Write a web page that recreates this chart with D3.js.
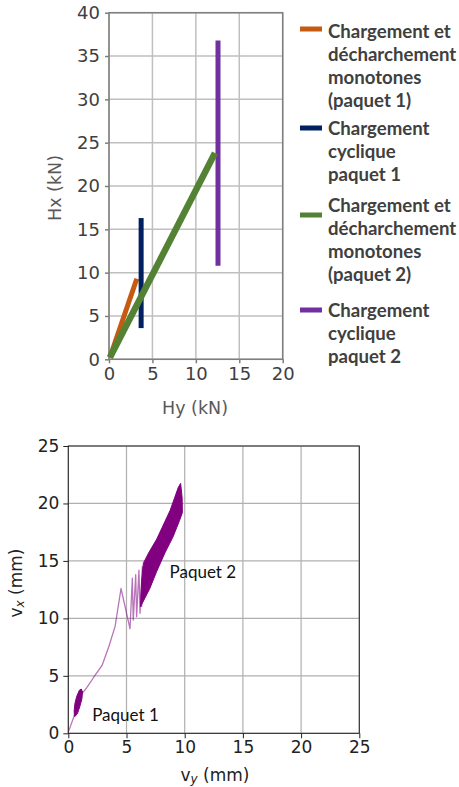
<!DOCTYPE html>
<html><head><meta charset="utf-8">
<script src="https://cdn.jsdelivr.net/npm/d3@7"></script>
<style>body{margin:0;background:#fff}svg{display:block}</style>
</head><body>
<svg id="c" width="459" height="787"></svg>
<script>
// ---------- Top chart data (kN) ----------
const topXTicks = [0, 5, 10, 15, 20];
const topYTicks = [0, 5, 10, 15, 20, 25, 30, 35, 40];
const seriesNames = [
  ["Chargement et", "décharchement", "monotones", "(paquet 1)"],
  ["Chargement", "cyclique", "paquet 1"],
  ["Chargement et", "décharchement", "monotones", "(paquet 2)"],
  ["Chargement", "cyclique", "paquet 2"]
];
const seriesColors = ["#C55A11", "#002060", "#548235", "#7030A0"];
const mono1Hy = [0.1, 3.2];
const mono1Hx = [0.2, 9.3];
const cyc1Hy = [3.7, 3.7];
const cyc1Hx = [3.6, 16.3];
const mono2Hy = [0.1, 12.2];
const mono2Hx = [0.2, 23.8];
const cyc2Hy = [12.55, 12.55];
const cyc2Hx = [10.8, 36.8];

// ---------- Bottom chart data (mm) ----------
const botTicks = [0, 5, 10, 15, 20, 25];
const trajVy = [0, 0.25, 0.5, 0.6, 0.75, 0.9, 1.15, 1.6, 2.2, 2.9, 3.5, 4.02, 4.53, 5.3, 5.5, 5.58, 5.79, 5.87, 6.07, 6.16, 6.36, 6.3];
const trajVx = [0.1, 0.8, 1.5, 2.0, 2.6, 3.0, 3.4, 4.0, 4.9, 5.9, 7.6, 9.3, 12.6, 9.1, 13.5, 9.86, 13.8, 10.15, 14.2, 10.44, 14.5, 11.0];
const clus1Vy = [0.55, 0.78, 0.98, 1.17, 1.22, 1.12, 0.95, 0.72, 0.57, 0.5];
const clus1Vx = [1.45, 1.7, 2.3, 3.0, 3.6, 3.85, 3.75, 3.2, 2.6, 1.9];
const clus2Vy = [6.2, 7.0, 7.6, 8.3, 9.0, 9.55, 9.8, 9.78, 9.65, 9.45, 8.75, 7.6, 6.9, 6.45, 6.3];
const clus2Vx = [11.0, 12.6, 14.1, 15.7, 17.1, 18.5, 19.2, 20.5, 21.75, 21.4, 19.4, 16.9, 15.7, 14.8, 13.2];
const annotations = [{t: "Paquet 2", vy: 8.7, vx: 14.1}, {t: "Paquet 1", vy: 2.05, vx: 1.6}];

const svg = d3.select("#c");

// ================= TOP CHART =================
const tx = d3.scaleLinear().domain([0, 20]).range([109, 282.7]);
const ty = d3.scaleLinear().domain([0, 40]).range([359.3, 12.7]);
const gTop = svg.append("g");
const gridCol = "#bfbfbf";
gTop.selectAll(".gx").data(topXTicks).join("line")
  .attr("x1", d => tx(d)).attr("x2", d => tx(d)).attr("y1", ty(0)).attr("y2", ty(40))
  .attr("stroke", gridCol).attr("stroke-width", 1.5);
gTop.selectAll(".gy").data(topYTicks).join("line")
  .attr("x1", tx(0)).attr("x2", tx(20)).attr("y1", d => ty(d)).attr("y2", d => ty(d))
  .attr("stroke", gridCol).attr("stroke-width", 1.5);
const axX = gTop.append("g").attr("transform", `translate(0,${ty(0)})`)
  .call(d3.axisBottom(tx).tickValues(topXTicks).tickSize(4).tickPadding(4));
const axY = gTop.append("g").attr("transform", `translate(${tx(0)},0)`)
  .call(d3.axisLeft(ty).tickValues(topYTicks).tickSize(4).tickPadding(5));
[axX, axY].forEach(a => {
  a.select(".domain").remove();
  a.selectAll("line").attr("stroke", "#7f7f7f").attr("stroke-width", 1.5);
  a.selectAll("text").attr("fill", "#404040").style("font", "18px 'DejaVu Sans'");
});
gTop.append("rect").attr("x", tx(0)).attr("y", ty(40)).attr("width", tx(20) - tx(0)).attr("height", ty(0) - ty(40))
  .attr("fill", "none").attr("stroke", "#7f7f7f").attr("stroke-width", 1.5);
gTop.append("text").attr("x", 195).attr("y", 408).attr("text-anchor", "middle").attr("dominant-baseline", "central")
  .attr("fill", "#595959").style("font", "17.5px 'DejaVu Sans'").text("Hy (kN)");
gTop.append("text").attr("transform", "translate(55,188) rotate(-90)").attr("text-anchor", "middle").attr("dominant-baseline", "central")
  .attr("fill", "#595959").style("font", "17.5px 'DejaVu Sans'").text("Hx (kN)");

const topSeries = [
  {hy: mono1Hy, hx: mono1Hx, w: 5, c: 0},
  {hy: cyc1Hy, hx: cyc1Hx, w: 5, c: 1},
  {hy: cyc2Hy, hx: cyc2Hx, w: 5, c: 3},
  {hy: mono2Hy, hx: mono2Hx, w: 6.5, c: 2}
];
const tline = d3.line().x(d => tx(d[0])).y(d => ty(d[1]));
topSeries.forEach(s => {
  gTop.append("path").attr("d", tline(d3.zip(s.hy, s.hx))).attr("fill", "none")
    .attr("stroke", seriesColors[s.c]).attr("stroke-width", s.w);
});

// legend
const legTextY = [31, 128, 205, 310];
const legSwY = [29, 128, 215, 310];
seriesNames.forEach((lines, i) => {
  gTop.append("rect").attr("x", 300).attr("y", legSwY[i] - 2.5).attr("width", 22).attr("height", 5).attr("fill", seriesColors[i]);
  lines.forEach((l, j) => {
    gTop.append("text").attr("x", 328).attr("y", legTextY[i] + j * 23).attr("dominant-baseline", "central")
      .attr("fill", "#404040").style("font", "bold 18.6px Lato").text(l);
  });
});

// ================= BOTTOM CHART =================
const bx = d3.scaleLinear().domain([0, 25]).range([68.3, 359.3]);
const by = d3.scaleLinear().domain([0, 25]).range([733.3, 446]);
const gBot = svg.append("g");
gBot.selectAll(".bgx").data(botTicks).join("line")
  .attr("x1", d => bx(d)).attr("x2", d => bx(d)).attr("y1", by(0)).attr("y2", by(25))
  .attr("stroke", "#b0b0b0").attr("stroke-width", 1.2);
gBot.selectAll(".bgy").data(botTicks).join("line")
  .attr("x1", bx(0)).attr("x2", bx(25)).attr("y1", d => by(d)).attr("y2", d => by(d))
  .attr("stroke", "#b0b0b0").attr("stroke-width", 1.2);
const bAxX = gBot.append("g").attr("transform", `translate(0,${by(0)})`)
  .call(d3.axisBottom(bx).tickValues(botTicks).tickSize(5).tickPadding(3));
const bAxY = gBot.append("g").attr("transform", `translate(${bx(0)},0)`)
  .call(d3.axisLeft(by).tickValues(botTicks).tickSize(5).tickPadding(4));
[bAxX, bAxY].forEach(a => {
  a.select(".domain").remove();
  a.selectAll("line").attr("stroke", "#222").attr("stroke-width", 1);
  a.selectAll("text").attr("fill", "#222").style("font", "17px 'DejaVu Sans'");
});
gBot.append("rect").attr("x", bx(0)).attr("y", by(25)).attr("width", bx(25) - bx(0)).attr("height", by(0) - by(25))
  .attr("fill", "none").attr("stroke", "#222").attr("stroke-width", 1);

const bline = d3.line().x(d => bx(d[0])).y(d => by(d[1]));
gBot.append("path").attr("d", bline(d3.zip(trajVy, trajVx))).attr("fill", "none")
  .attr("stroke", "#800080").attr("stroke-opacity", 0.55).attr("stroke-width", 1.3).attr("stroke-linejoin", "round");
[[clus1Vy, clus1Vx], [clus2Vy, clus2Vx]].forEach(c => {
  gBot.append("path").attr("d", bline(d3.zip(c[0], c[1])) + "Z").attr("fill", "#800080")
    .attr("stroke", "#800080").attr("stroke-width", 1).attr("stroke-linejoin", "round");
});
annotations.forEach(a => {
  gBot.append("text").attr("x", bx(a.vy)).attr("y", by(a.vx)).attr("dominant-baseline", "central")
    .attr("fill", "#111").style("font", "17px Lato").text(a.t);
});
const xt = gBot.append("text").attr("x", 215).attr("y", 775).attr("text-anchor", "middle").attr("dominant-baseline", "central")
  .attr("fill", "#222").style("font", "17px 'DejaVu Sans'");
xt.append("tspan").text("v");
xt.append("tspan").attr("dy", 4).style("font-size", "12px").style("font-style", "italic").text("y");
xt.append("tspan").attr("dy", -4).text(" (mm)");
const yt = gBot.append("text").attr("transform", "translate(16,583) rotate(-90)").attr("text-anchor", "middle").attr("dominant-baseline", "central")
  .attr("fill", "#222").style("font", "17px 'DejaVu Sans'");
yt.append("tspan").text("v");
yt.append("tspan").attr("dy", 4).style("font-size", "12px").style("font-style", "italic").text("x");
yt.append("tspan").attr("dy", -4).text(" (mm)");
</script>
</body></html>
